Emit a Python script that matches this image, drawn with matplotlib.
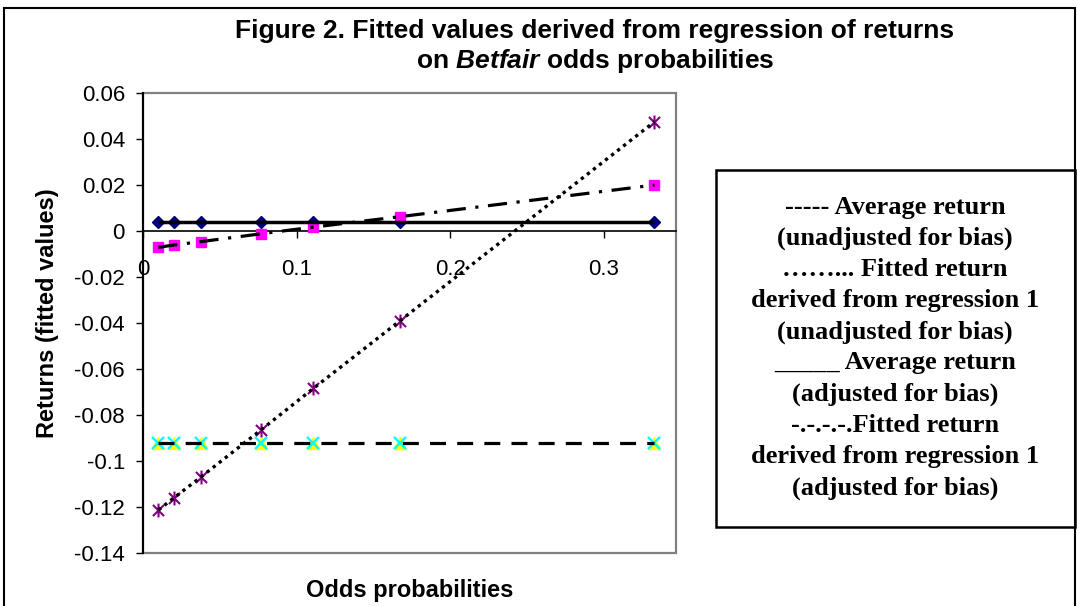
import matplotlib
matplotlib.use("Agg")
import matplotlib.pyplot as plt
from matplotlib.patches import Rectangle
from matplotlib.path import Path
from matplotlib.ticker import FuncFormatter

plt.rcParams['font.family'] = ['Liberation Sans', 'DejaVu Sans']
plt.rcParams['mathtext.fontset'] = 'custom'
plt.rcParams['mathtext.bfit'] = 'Liberation Sans:italic:bold'
plt.rcParams['mathtext.it'] = 'Liberation Sans:italic:bold'

# data
odds_prob = [0.01, 0.02, 0.038, 0.077, 0.111, 0.167, 0.333]
avg_adj = [0.004, 0.004, 0.004, 0.004, 0.004, 0.004, 0.004]
fit_adj = [-0.0071, -0.0061, -0.0046, -0.0012, 0.0017, 0.0062, 0.0200]
avg_unadj = [-0.092, -0.092, -0.092, -0.092, -0.092, -0.092, -0.092]
fit_unadj = [-0.1213, -0.1161, -0.1068, -0.0864, -0.0684, -0.0392, 0.0475]

x_ticks = [0, 0.1, 0.2, 0.3]
y_ticks = [0.06, 0.04, 0.02, 0, -0.02, -0.04, -0.06, -0.08, -0.1, -0.12, -0.14]

title = ("Figure 2. Fitted values derived from regression of returns\n"
         r"on $\mathbfit{Betfair}$ odds probabilities")
legend_lines = ["----- Average return",
                "(unadjusted for bias)",
                "……... Fitted return",
                "derived from regression 1",
                "(unadjusted for bias)",
                "_____ Average return",
                "(adjusted for bias)",
                "-.-.-.-.Fitted return",
                "derived from regression 1",
                "(adjusted for bias)"]

W, H = 1077, 606
fig = plt.figure(figsize=(W / 100, H / 100), dpi=100)
ax = fig.add_axes([143 / W, 1 - 553 / H, 533 / W, 460 / H])

# excel style star marker (x plus vertical bar)
star = Path([(-1, -1), (1, 1), (-1, 1), (1, -1), (0, -1.25), (0, 1.25)],
            [Path.MOVETO, Path.LINETO, Path.MOVETO, Path.LINETO, Path.MOVETO, Path.LINETO])

# markers
ax.plot(odds_prob, avg_adj, ls='none', marker='D', ms=6, color='#000080', zorder=3)
ax.plot(odds_prob, fit_adj, ls='none', marker='s', ms=7.5, color='#FF00FF', zorder=3)
ax.plot(odds_prob, avg_unadj, ls='none', marker='^', ms=8.5, color='#FFFF00', zorder=3)
ax.plot(odds_prob, avg_unadj, ls='none', marker='x', ms=8.5, mew=1.7, color='#00FFFF', zorder=3)
ax.plot(odds_prob, fit_unadj, ls='none', marker=star, ms=10, mew=1.5, color='#800080', zorder=3)

# lines over the markers
ax.plot(odds_prob, avg_adj, color='black', lw=2.5, solid_capstyle='butt', zorder=4)
ax.plot(odds_prob, fit_adj, color='black', lw=2.3, ls=(0, (6, 3, 1, 3)), zorder=4)
ax.plot(odds_prob, avg_unadj, color='black', lw=2.3, ls=(0, (5, 3.5)), zorder=4)
ax.plot(odds_prob, fit_unadj, color='black', lw=2.4, ls=(0, (1, 1.3)), zorder=4)

ax.set_xlim(0, 0.347)
ax.set_ylim(-0.14, 0.06)
ax.set_xticks(x_ticks)
ax.set_yticks(y_ticks)
ax.xaxis.set_major_formatter(FuncFormatter(lambda v, p: f"{round(v, 3):g}"))
ax.yaxis.set_major_formatter(FuncFormatter(lambda v, p: "0" if abs(v) < 1e-9 else f"{round(v, 3):g}"))

for s in ['top', 'right']:
    ax.spines[s].set_visible(False)
ax.spines['bottom'].set_position(('data', 0))
ax.spines['bottom'].set_color('black')
ax.spines['bottom'].set_linewidth(1.2)
ax.spines['left'].set_color('black')
ax.spines['left'].set_linewidth(1.5)
ax.add_patch(Rectangle((0, 0), 1, 1, transform=ax.transAxes, fill=False,
                       edgecolor='#808080', lw=1.6, zorder=0, clip_on=False))

ax.tick_params(axis='x', direction='out', length=5, width=1, pad=15, labelsize=16)
ax.tick_params(axis='y', direction='out', length=5, width=1, pad=8, labelsize=16)

fig.text(48 / W, 1 - 313 / H, "Returns (fitted values)", rotation=90, ha='center', va='center',
         fontsize=17, fontweight='bold')
fig.text(410 / W, 1 - 591 / H, "Odds probabilities", ha='center', va='center',
         fontsize=17, fontweight='bold')
fig.text(595 / W, 1 - 47 / H, title, ha='center', va='center', fontsize=19,
         fontweight='bold', linespacing=1.2)

# legend box drawn as a text panel
fig.patches.append(Rectangle((716 / W, 1 - 527 / H), 359 / W, 357 / H, transform=fig.transFigure,
                             fill=False, edgecolor='black', lw=1.8))
for i, line in enumerate(legend_lines):
    fig.text(895 / W, 1 - (207 + i * 31.2) / H, line, ha='center', va='center',
             fontsize=19, fontweight='bold', family=['Liberation Serif', 'DejaVu Serif'])

# outer chart border
fig.patches.append(Rectangle((4 / W, -0.05), 1071 / W, 1.05 - 8 / H, transform=fig.transFigure,
                             fill=False, edgecolor='black', lw=1.5))

fig.savefig("out.png", dpi=100)
